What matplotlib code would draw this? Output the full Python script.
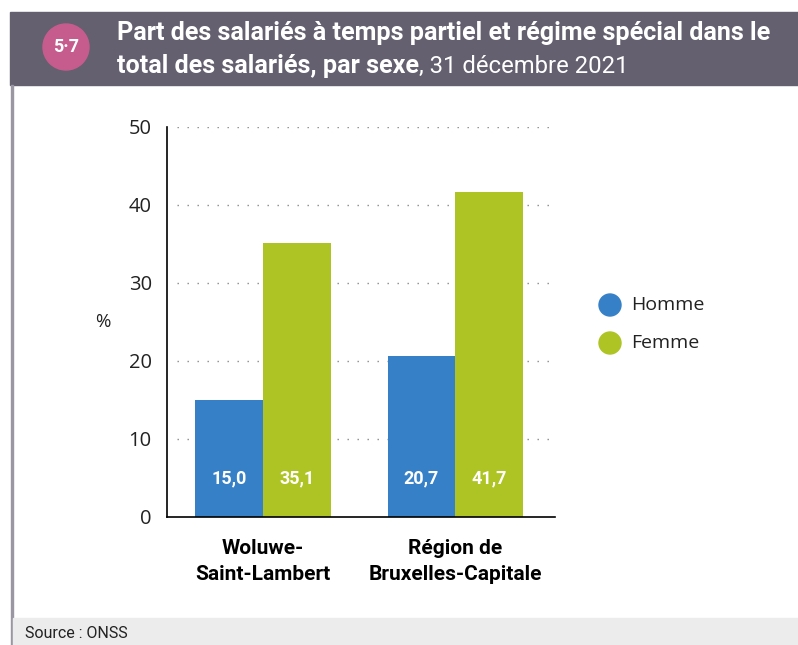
import matplotlib
matplotlib.use("Agg")
import matplotlib.pyplot as plt
from matplotlib.patches import Ellipse, Rectangle
import numpy as np

# data
categories = ["Woluwe-\nSaint-Lambert", "Région de\nBruxelles-Capitale"]
series_names = ["Homme", "Femme"]
homme = [15.0, 20.7]
femme = [35.1, 41.7]
y_ticks = [0, 10, 20, 30, 40, 50]

COLORS = {"Homme": "#3580c6", "Femme": "#aec424"}
HEADER = "#65606f"
PINK = "#c65c8d"

NARROW = ["Roboto", "DejaVu Sans"]
plt.rcParams["font.family"] = ["Open Sans", "DejaVu Sans"]

W, H = 798, 645
fig = plt.figure(figsize=(W / 100, H / 100), dpi=100)
renderer = fig.canvas.get_renderer()


def fx(px):
    return px / W


def fy(py):
    return 1 - py / H


def dot(cx, cy, r, color):
    # round disc in pixel units
    fig.patches.append(Ellipse((fx(cx), fy(cy)), 2 * r / W, 2 * r / H,
                               transform=fig.transFigure, color=color, zorder=2))


def fit_width(txt, target_px):
    # shrink/grow a text so it spans target_px pixels
    w = txt.get_window_extent(renderer).width
    txt.set_fontsize(txt.get_fontsize() * target_px / w)


# frame: header band, left border, source band
fig.patches.append(Rectangle((fx(10), fy(85)), fx(W - 10), (85 - 12) / H,
                             transform=fig.transFigure, color=HEADER, zorder=0))
fig.patches.append(Rectangle((fx(11), 0), fx(2), fy(85),
                             transform=fig.transFigure, color="#9a97a3", zorder=0))
fig.patches.append(Rectangle((fx(13), 0), fx(W - 13), (H - 618) / H,
                             transform=fig.transFigure, color="#ececec", zorder=0))
dot(66, 47, 23, PINK)
fig.text(fx(66), fy(47), "5·7", color="white", fontsize=13, fontweight="bold",
         ha="center", va="center", family=NARROW, zorder=3)

t1 = fig.text(fx(117), fy(33), "Part des salariés à temps partiel et régime spécial dans le",
              color="white", fontsize=17, fontweight="bold", ha="left", va="center", family=NARROW)
fit_width(t1, 770 - 117)
t2 = fig.text(fx(117), fy(66), "total des salariés, par sexe", color="white",
              fontsize=t1.get_fontsize(), fontweight="bold", ha="left", va="center", family=NARROW)
x_end = t2.get_window_extent(renderer).x1
fig.text(x_end / W, fy(66), ", 31 décembre 2021", color="white",
         fontsize=t1.get_fontsize() * 0.95, ha="left", va="center", family=NARROW)
fig.text(fx(25), fy(634), "Source : ONSS", fontsize=11.5, color="#222222",
         ha="left", va="center", family=NARROW)

# plot area
ax = fig.add_axes([fx(167), fy(517), fx(555 - 167), (517 - 127) / H])
x = np.arange(len(categories))
width = 0.352
ax.bar(x - width / 2, homme, width, color=COLORS["Homme"], zorder=3)
ax.bar(x + width / 2, femme, width, color=COLORS["Femme"], zorder=3)

for i in range(len(categories)):
    ax.text(x[i] - width / 2, 5, f"{homme[i]:.1f}".replace(".", ","), color="white",
            fontsize=13, fontweight="bold", ha="center", va="center", family=NARROW, zorder=4)
    ax.text(x[i] + width / 2, 5, f"{femme[i]:.1f}".replace(".", ","), color="white",
            fontsize=13, fontweight="bold", ha="center", va="center", family=NARROW, zorder=4)

ax.set_xlim(-0.5, 1.52)
ax.set_ylim(0, 50)
ax.set_yticks(y_ticks)
ax.tick_params(axis="y", length=0, pad=11, labelsize=14.5, labelcolor="#222222")
ax.set_xticks(x)
ax.set_xticklabels(categories, fontsize=15, fontweight="bold", family=NARROW,
                   linespacing=1.45)
ax.tick_params(axis="x", length=0, pad=16)

for t in y_ticks[1:]:
    ax.axhline(t, xmin=0.025, xmax=0.995, color="#8a8a8a", lw=1.0,
               linestyle=(0, (1, 6.2)), zorder=1)

for side in ["top", "right"]:
    ax.spines[side].set_visible(False)
ax.spines["left"].set_linewidth(1.2)
ax.spines["bottom"].set_linewidth(1.2)
ax.spines["left"].set_zorder(5)
ax.spines["bottom"].set_zorder(5)

fig.text(fx(103), fy(322), "%", fontsize=13.5, color="#222222", ha="center", va="center")

# legend
for name, py in zip(series_names, [305, 343]):
    dot(610, py, 11, COLORS[name])
    fig.text(fx(631), fy(py), name, fontsize=14, color="#222222", ha="left", va="center")

fig.savefig("out.png", dpi=100)
